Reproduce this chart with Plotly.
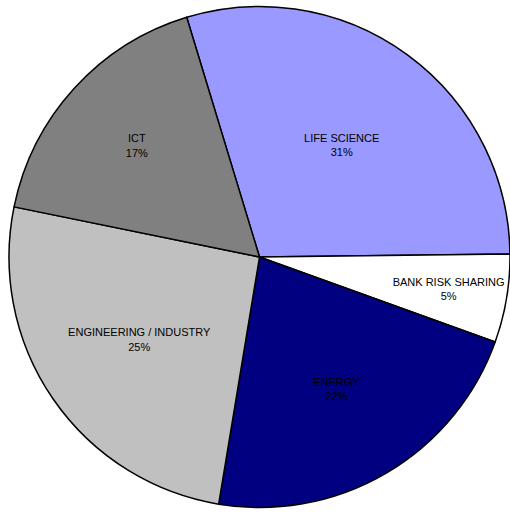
import plotly.graph_objects as go

categories = ["LIFE SCIENCE", "BANK RISK SHARING", "ENERGY", "ENGINEERING / INDUSTRY", "ICT"]
values = [29.5, 5.7, 22.1, 25.6, 17.1]
pct_labels = ["31%", "5%", "22%", "25%", "17%"]
colors = ["#9999FF", "#FFFFFF", "#000080", "#C0C0C0", "#808080"]

# labels for the big slices (drawn by the main pie), and the small slice label
# (drawn by a transparent twin pie with a slightly smaller radius so it fits)
small = "BANK RISK SHARING"
main_text = ["" if c == small else f"{c}<br>{p}" for c, p in zip(categories, pct_labels)]
small_text = [f"{c}<br>{p}" if c == small else "" for c, p in zip(categories, pct_labels)]

font = dict(family="Liberation Sans, Arial, sans-serif", size=11, color="black")

fig = go.Figure()
fig.add_trace(go.Pie(
    labels=categories,
    values=values,
    text=main_text,
    texttemplate="%{text}",
    textposition="inside",
    insidetextorientation="horizontal",
    textfont=font,
    marker=dict(colors=colors, line=dict(color="black", width=1.5)),
    sort=False,
    direction="clockwise",
    rotation=-16.9,
    hoverinfo="label+percent",
    showlegend=False,
))
fig.add_trace(go.Pie(
    labels=categories,
    values=values,
    text=small_text,
    texttemplate="%{text}",
    textposition="inside",
    insidetextorientation="horizontal",
    textfont=font,
    marker=dict(colors=["rgba(0,0,0,0)"] * len(categories), line=dict(width=0)),
    sort=False,
    direction="clockwise",
    rotation=-16.9,
    hoverinfo="skip",
    showlegend=False,
    domain=dict(x=[0.047, 0.953], y=[0.05, 0.95]),
))

fig.update_layout(
    width=510, height=512,
    margin=dict(l=9, r=0, t=6, b=4),
    paper_bgcolor="white",
    plot_bgcolor="white",
    uniformtext=dict(minsize=11, mode="show"),
)

fig.write_html("out.html", config={"displayModeBar": False},
               post_script="document.body.style.margin='0';")
